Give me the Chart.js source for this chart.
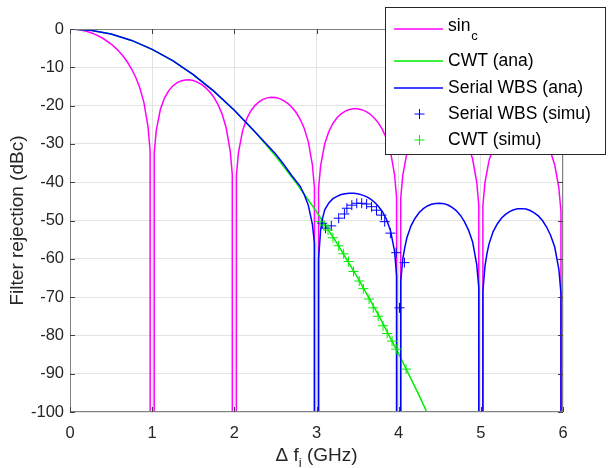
<!DOCTYPE html>
<html>
<head>
<meta charset="utf-8">
<script src="https://cdn.jsdelivr.net/npm/chart.js@4.4.1/dist/chart.umd.min.js"></script>
<style>
  body { margin: 0; background: #fff; }
  canvas { display: block; }
</style>
</head>
<body>
<canvas id="rejChart" width="608" height="468"></canvas>
<script>
// frequency offset (GHz) and rejection (dBc)
// nulls are given as -3000 so the line drops straight off the bottom of the axes
const freqSinc = [0, 0.1, 0.2, 0.3, 0.4, 0.5, 0.55, 0.6, 0.65, 0.7, 0.75, 0.8, 0.85, 0.9, 0.95, 0.975, 1,
  1.025, 1.05, 1.1, 1.15, 1.2, 1.25, 1.3, 1.35, 1.4, 1.45, 1.5, 1.55, 1.6, 1.65, 1.7, 1.75, 1.8, 1.85, 1.9, 1.95, 1.975, 2,
  2.025, 2.05, 2.1, 2.15, 2.2, 2.25, 2.3, 2.35, 2.4, 2.45, 2.5, 2.55, 2.6, 2.65, 2.7, 2.75, 2.8, 2.85, 2.9, 2.95, 2.975, 3,
  3.025, 3.05, 3.1, 3.15, 3.2, 3.25, 3.3, 3.35, 3.4, 3.45, 3.5, 3.55, 3.6, 3.65, 3.7, 3.75, 3.8, 3.85, 3.9, 3.95, 3.975, 4,
  4.025, 4.05, 4.1, 4.15, 4.2, 4.25, 4.3, 4.35, 4.4, 4.45, 4.5, 4.55, 4.6, 4.65, 4.7, 4.75, 4.8, 4.85, 4.9, 4.95, 4.975, 5,
  5.025, 5.05, 5.1, 5.15, 5.2, 5.25, 5.3, 5.35, 5.4, 5.45, 5.5, 5.55, 5.6, 5.65, 5.7, 5.75, 5.8, 5.85, 5.9, 5.95, 5.975, 6];
const sincDb = [0, -0.14, -0.58, -1.33, -2.42, -3.92, -4.86, -5.94, -7.2, -8.69, -10.45, -12.62, -15.39, -19.23, -25.61, -31.83, -3000,
  -32.27, -26.48, -20.97, -18.02, -16.14, -14.89, -14.06, -13.55, -13.3, -13.28, -13.46, -13.86, -14.46, -15.3, -16.39, -17.81, -19.66, -22.15, -25.72, -31.86, -37.96, -3000,
  -38.18, -32.29, -26.59, -23.45, -21.41, -20.0, -19.02, -18.37, -17.98, -17.83, -17.9, -18.18, -18.68, -19.41, -20.41, -21.74, -23.5, -25.9, -29.39, -35.45, -41.52, -3000,
  -41.67, -35.74, -29.97, -26.77, -24.66, -23.19, -22.15, -21.45, -21.01, -20.81, -20.83, -21.06, -21.51, -22.19, -23.15, -24.43, -26.15, -28.51, -31.96, -37.99, -44.04, -3000,
  -44.15, -38.21, -32.4, -29.16, -27.02, -25.52, -24.45, -23.71, -23.25, -23.02, -23.01, -23.21, -23.63, -24.29, -25.23, -26.49, -28.18, -30.52, -33.95, -39.95, -45.99, -3000,
  -46.07, -40.12, -34.29, -31.04, -28.88, -27.36, -26.27, -25.51, -25.03, -24.78, -24.75, -24.94, -25.34, -25.99, -26.9, -28.15, -29.83, -32.15, -35.56, -41.55, -47.58, -3000];

const freqCwt = [0, 0.25, 0.5, 0.75, 1, 1.25, 1.5, 1.75, 2, 2.25, 2.5, 2.75, 3, 3.25, 3.5, 3.75, 4, 4.25, 4.5];
const cwtDb = [0, -0.33, -1.33, -2.98, -5.3, -8.28, -11.93, -16.23, -21.2, -26.83, -33.13, -40.08, -47.7,
  -55.98, -64.93, -74.53, -84.8, -95.73, -107.3];

const freqWbs = [0, 0.25, 0.5, 0.75, 1, 1.25, 1.5, 1.75, 2, 2.25, 2.5, 2.6, 2.7, 2.8, 2.85, 2.9, 2.95, 2.975, 3,
  3.025, 3.05, 3.075, 3.1, 3.15, 3.2, 3.25, 3.3, 3.35, 3.4, 3.45, 3.5, 3.55, 3.6, 3.65, 3.7, 3.75, 3.8, 3.85, 3.9, 3.95, 3.975, 4,
  4.025, 4.05, 4.075, 4.1, 4.15, 4.2, 4.25, 4.3, 4.35, 4.4, 4.45, 4.5, 4.55, 4.6, 4.65, 4.7, 4.75, 4.8, 4.85, 4.9, 4.95, 4.975, 5,
  5.025, 5.05, 5.075, 5.1, 5.15, 5.2, 5.25, 5.3, 5.35, 5.4, 5.45, 5.5, 5.55, 5.6, 5.65, 5.7, 5.75, 5.8, 5.85, 5.9, 5.95, 5.975, 6];
const wbsDb = [0, -0.33, -1.33, -2.98, -5.3, -8.28, -11.93, -16.23, -21.2, -26.8, -32.6, -35.3, -38.3, -41.0, -43.2, -46.0, -51.0, -56.0, -3000,
  -60, -52.5, -49.3, -47.2, -45.4, -44.3, -43.7, -43.2, -43.0, -42.9, -42.9, -43.0, -43.3, -43.7, -44.3, -45.1, -46.2, -47.6, -49.6, -52.6, -58.0, -64.5, -3000,
  -66, -60, -57, -54.5, -51.4, -49.4, -47.9, -46.9, -46.2, -45.75, -45.55, -45.5, -45.6, -45.95, -46.6, -47.4, -48.6, -50.3, -52.5, -55.6, -61.5, -67.5, -3000,
  -68.5, -62, -58.6, -56.1, -52.9, -50.9, -49.4, -48.4, -47.7, -47.2, -46.95, -46.9, -47.0, -47.4, -48.0, -48.8, -50.0, -51.7, -53.9, -57.0, -62.8, -69, -3000];

const freqWbsSimu = [3.07, 3.11, 3.18, 3.27, 3.34, 3.37, 3.43, 3.49, 3.55, 3.61, 3.67, 3.73, 3.79, 3.83, 3.9, 3.97, 4.01, 4.07];
const wbsSimuDb = [-50.7, -52.0, -51.4, -49.4, -48.3, -46.8, -46.0, -45.5, -45.5, -45.7, -46.4, -47.3, -48.6, -50.3, -53.3, -58.4, -72.8, -61.0];

const freqCwtSimu = [3.04, 3.09, 3.14, 3.2, 3.27, 3.33, 3.39, 3.45, 3.52, 3.57, 3.64, 3.69, 3.75, 3.81, 3.86, 3.92, 3.97, 4.09];
const cwtSimuDb = [-50.3, -51.2, -52.5, -54.5, -56.6, -58.7, -60.7, -63.3, -65.8, -67.8, -70.5, -72.8, -75.0, -77.5, -79.5, -81.5, -83.6, -88.8];

const xTickVals = [0, 1, 2, 3, 4, 5, 6];
const yTickVals = [0, -10, -20, -30, -40, -50, -60, -70, -80, -90, -100];

const pts = (xs, ys) => xs.map((v, i) => ({ x: v, y: ys[i] }));

const FONT = '"Liberation Sans", Arial, sans-serif';
const MAGENTA = '#ff00ff', GREEN = '#00ee00', BLUE = '#0000ff';

// matlab-ish box, inward ticks, x label with subscript and the legend
const matlabPlugin = {
  id: 'matlabBox',
  afterDraw(chart) {
    const { ctx, chartArea: a, scales } = chart;
    ctx.save();
    ctx.strokeStyle = '#808080';
    ctx.lineWidth = 1;
    ctx.strokeRect(a.left + 0.5, a.top + 0.5, a.right - a.left - 1, a.bottom - a.top - 1);

    ctx.strokeStyle = '#404040';
    ctx.beginPath();
    xTickVals.forEach(v => {
      const px = Math.round(scales.x.getPixelForValue(v)) + 0.5;
      ctx.moveTo(px, a.bottom); ctx.lineTo(px, a.bottom - 5);
      ctx.moveTo(px, a.top); ctx.lineTo(px, a.top + 5);
    });
    yTickVals.forEach(v => {
      const py = Math.round(scales.y.getPixelForValue(v)) + 0.5;
      ctx.moveTo(a.left, py); ctx.lineTo(a.left + 5, py);
      ctx.moveTo(a.right, py); ctx.lineTo(a.right - 5, py);
    });
    ctx.stroke();

    // x axis title: Δ f_i (GHz)
    ctx.fillStyle = '#262626';
    ctx.textBaseline = 'middle';
    const big = '19px ' + FONT, small = '13px ' + FONT;
    ctx.font = big;
    const w1 = ctx.measureText('Δ f').width;
    const w3 = ctx.measureText(' (GHz)').width;
    ctx.font = small;
    const w2 = ctx.measureText('i').width;
    let tx = (a.left + a.right) / 2 - (w1 + w2 + w3) / 2;
    const ty = 456;
    ctx.font = big; ctx.fillText('Δ f', tx, ty); tx += w1;
    ctx.font = small; ctx.fillText('i', tx, ty + 7); tx += w2;
    ctx.font = big; ctx.fillText(' (GHz)', tx, ty);

    // legend
    ctx.fillStyle = '#ffffff';
    ctx.fillRect(385.5, 7.5, 220, 147);
    ctx.strokeStyle = '#262626';
    ctx.lineWidth = 1;
    ctx.strokeRect(385.5, 7.5, 220, 147);
    const rows = [
      { ds: 0, y: 29, sub: 'c' },
      { ds: 1, y: 61 },
      { ds: 2, y: 88 },
      { ds: 3, y: 114 },
      { ds: 4, y: 140 }
    ];
    const lf = '17.5px ' + FONT;
    rows.forEach(r => {
      const d = chart.data.datasets[r.ds];
      ctx.strokeStyle = d.borderColor;
      ctx.lineWidth = 1.5;
      ctx.beginPath();
      if (d.showLine) {
        ctx.moveTo(394, r.y); ctx.lineTo(443, r.y);
      } else {
        ctx.lineWidth = 1;
        ctx.moveTo(414.5, r.y); ctx.lineTo(424.5, r.y);
        ctx.moveTo(419.5, r.y - 5); ctx.lineTo(419.5, r.y + 5);
      }
      ctx.stroke();
      ctx.fillStyle = '#000';
      ctx.font = lf;
      const ty2 = r.sub ? r.y - 3 : r.y;
      ctx.fillText(d.label, 448, ty2);
      if (r.sub) {
        const lw = ctx.measureText(d.label).width;
        ctx.font = '13px ' + FONT;
        ctx.fillText(r.sub, 448 + lw + 1, ty2 + 10);
      }
    });
    ctx.restore();
  }
};

new Chart(document.getElementById('rejChart'), {
  type: 'scatter',
  data: {
    datasets: [
      { label: 'sin', data: pts(freqSinc, sincDb), showLine: true, borderColor: MAGENTA,
        borderWidth: 1.5, pointRadius: 0, tension: 0, order: 5 },
      { label: 'CWT (ana)', data: pts(freqCwt, cwtDb), showLine: true, borderColor: GREEN,
        borderWidth: 1.5, pointRadius: 0, tension: 0, order: 4 },
      { label: 'Serial WBS (ana)', data: pts(freqWbs, wbsDb), showLine: true, borderColor: BLUE,
        borderWidth: 1.5, pointRadius: 0, tension: 0, order: 3 },
      { label: 'Serial WBS (simu)', data: pts(freqWbsSimu, wbsSimuDb), showLine: false, borderColor: BLUE,
        backgroundColor: BLUE, pointStyle: 'cross', pointRadius: 5, borderWidth: 1, order: 2 },
      { label: 'CWT (simu)', data: pts(freqCwtSimu, cwtSimuDb), showLine: false, borderColor: GREEN,
        backgroundColor: GREEN, pointStyle: 'cross', pointRadius: 5, borderWidth: 1, order: 1 }
    ]
  },
  options: {
    responsive: false,
    animation: false,
    devicePixelRatio: 1,
    layout: { padding: { left: 0, top: 29, right: 45, bottom: 0 } },
    plugins: { legend: { display: false }, tooltip: { enabled: false } },
    scales: {
      x: {
        type: 'linear', min: 0, max: 6,
        afterFit: s => { s.height = 56; },
        afterBuildTicks: s => { s.ticks = xTickVals.map(v => ({ value: v })); },
        ticks: { color: '#262626', font: { family: FONT, size: 16.5 }, padding: 12, maxRotation: 0 },
        grid: { color: '#e3e3e3', drawTicks: false },
        border: { display: false }
      },
      y: {
        min: -100, max: 0,
        afterFit: s => { s.width = 70; },
        afterBuildTicks: s => { s.ticks = yTickVals.map(v => ({ value: v })); },
        ticks: { color: '#262626', font: { family: FONT, size: 16.5 }, padding: 6 },
        grid: { color: '#e3e3e3', drawTicks: false },
        border: { display: false },
        title: { display: true, text: 'Filter rejection (dBc)', color: '#262626',
          font: { family: FONT, size: 19 }, padding: { top: 6, bottom: 0 } }
      }
    }
  },
  plugins: [matlabPlugin]
});
</script>
</body>
</html>
